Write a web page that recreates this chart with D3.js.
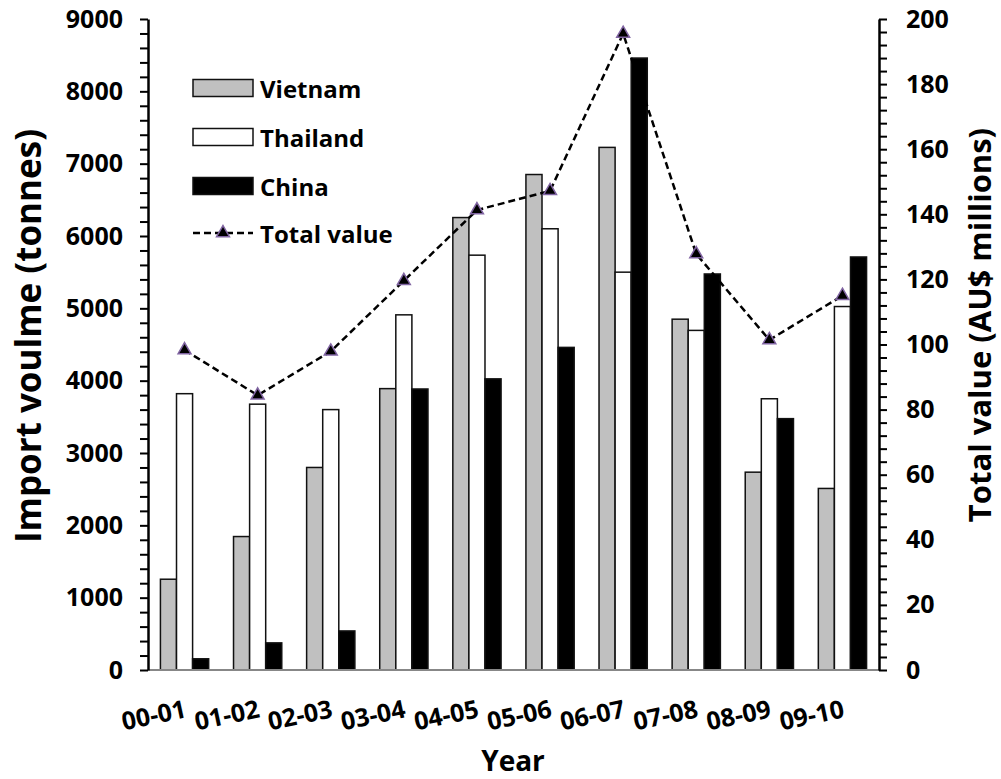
<!DOCTYPE html>
<html>
<head>
<meta charset="utf-8">
<script src="https://cdn.jsdelivr.net/npm/d3@7"></script>
<style>
	body { margin: 0; background: #fff; }
	text { font-family: "Open Sans", sans-serif; font-weight: 700; fill: #000; }
</style>
</head>
<body>
<svg id="chart" width="1001" height="779"></svg>
<script>
// chart data
var years = ["00-01", "01-02", "02-03", "03-04", "04-05", "05-06", "06-07", "07-08", "08-09", "09-10"];
var vietnam = [1255, 1845, 2800, 3890, 6255, 6850, 7225, 4850, 2735, 2510];
var thailand = [3820, 3675, 3600, 4910, 5735, 6100, 5500, 4695, 3750, 5025];
var china = [155, 375, 540, 3885, 4025, 4460, 8460, 5475, 3475, 5710];
var totalValue = [98.3, 84.4, 97.9, 119.6, 141.3, 147.2, 195.5, 127.8, 101.4, 115.0];

var leftTicks = [0, 1000, 2000, 3000, 4000, 5000, 6000, 7000, 8000, 9000];
var rightTicks = [0, 20, 40, 60, 80, 100, 120, 140, 160, 180, 200];

var seriesNames = ["Vietnam", "Thailand", "China"];
var seriesColors = ["#c0c0c0", "#ffffff", "#000000"];
var lineName = "Total value";

var svg = d3.select("#chart");
var plot = { left: 148, right: 879, top: 19, bottom: 670 };

var x = d3.scaleBand()
	.domain(years)
	.range([plot.left, plot.right])
	.paddingInner(0.34)
	.paddingOuter(0.17);

var xs = d3.scaleBand()
	.domain(seriesNames)
	.range([0, x.bandwidth()]);

var yl = d3.scaleLinear().domain([0, 9000]).range([plot.bottom, plot.top]);
var yr = d3.scaleLinear().domain([0, 200]).range([plot.bottom, plot.top]);

var series = [vietnam, thailand, china];

// bars
var groups = svg.append("g")
	.selectAll(".barGroup")
	.data(years)
	.enter()
	.append("g")
	.classed("barGroup", true)
	.attr("transform", function(d) {
		return "translate(" + x(d) + ",0)";
	});

groups.selectAll(".bar")
	.data(function(d, i) {
		return seriesNames.map(function(name, j) {
			return { name: name, value: series[j][i], color: seriesColors[j] };
		});
	})
	.enter()
	.append("rect")
	.classed("bar", true)
	.attr("x", function(d) { return xs(d.name); })
	.attr("width", xs.bandwidth())
	.attr("y", function(d) { return yl(d.value); })
	.attr("height", function(d) { return yl(0) - yl(d.value); })
	.attr("fill", function(d) { return d.color; })
	.attr("stroke", "#111")
	.attr("stroke-width", 1.5);

// x axis line (grey)
svg.append("line")
	.attr("x1", plot.left)
	.attr("x2", plot.right)
	.attr("y1", plot.bottom)
	.attr("y2", plot.bottom)
	.attr("stroke", "#878787")
	.attr("stroke-width", 2);

// left axis, minor ticks every 200
var leftAxis = d3.axisLeft(yl)
	.tickValues(d3.range(0, 9001, 200))
	.tickFormat(function(d) { return leftTicks.indexOf(d) >= 0 ? d : ""; })
	.tickSize(8)
	.tickSizeOuter(0)
	.tickPadding(17);

var gl = svg.append("g")
	.attr("transform", "translate(" + plot.left + ",0)")
	.call(leftAxis);

// right axis, minor ticks every 4
var rightAxis = d3.axisRight(yr)
	.tickValues(d3.range(0, 201, 4))
	.tickFormat(function(d) { return rightTicks.indexOf(d) >= 0 ? d : ""; })
	.tickSize(8)
	.tickSizeOuter(0)
	.tickPadding(19);

var gr = svg.append("g")
	.attr("transform", "translate(" + plot.right + ",0)")
	.call(rightAxis);

[gl, gr].forEach(function(g) {
	g.select(".domain").attr("stroke", "#000").attr("stroke-width", 2.5);
	g.selectAll(".tick line").attr("stroke", "#000").attr("stroke-width", 2);
	g.selectAll(".tick text")
		.style("font-size", "25px")
		.style("font-family", "'Open Sans', sans-serif")
		.style("font-weight", 700)
		.attr("fill", "#000");
});

// category labels, tilted
svg.append("g")
	.selectAll(".xLabel")
	.data(years)
	.enter()
	.append("text")
	.classed("xLabel", true)
	.attr("text-anchor", "end")
	.attr("transform", function(d) {
		return "translate(" + (x(d) + x.bandwidth() / 2 + 3) + ",717) rotate(-12)";
	})
	.style("font-size", "25px")
	.text(function(d) { return d; });

// total value line
var line = d3.line()
	.x(function(d, i) { return x(years[i]) + x.bandwidth() / 2; })
	.y(function(d) { return yr(d); });

svg.append("path")
	.datum(totalValue)
	.attr("d", line)
	.attr("fill", "none")
	.attr("stroke", "#000")
	.attr("stroke-width", 2.5)
	.attr("stroke-dasharray", "7,4");

var tri = d3.symbol().type(d3.symbolTriangle).size(72);

svg.append("g")
	.selectAll(".marker")
	.data(totalValue)
	.enter()
	.append("path")
	.classed("marker", true)
	.attr("d", tri)
	.attr("transform", function(d, i) {
		return "translate(" + (x(years[i]) + x.bandwidth() / 2) + "," + yr(d) + ")";
	})
	.attr("fill", "#000")
	.attr("stroke", "#8064a2")
	.attr("stroke-width", 1.5);

// axis titles
svg.append("text")
	.attr("transform", "translate(27,336) rotate(-90)")
	.attr("text-anchor", "middle")
	.attr("dominant-baseline", "central")
	.style("font-size", "35px")
	.text("Import voulme (tonnes)");

svg.append("text")
	.attr("transform", "translate(979,325) rotate(-90)")
	.attr("text-anchor", "middle")
	.attr("dominant-baseline", "central")
	.style("font-size", "31px")
	.text("Total value (AU$ millions)");

svg.append("text")
	.attr("x", 513)
	.attr("y", 771)
	.attr("text-anchor", "middle")
	.style("font-size", "28px")
	.text("Year");

// legend
var legend = svg.append("g").attr("transform", "translate(193,0)");
var legendY = [88, 137, 186, 233];

seriesNames.forEach(function(name, i) {
	legend.append("rect")
		.attr("x", 0)
		.attr("y", legendY[i] - 8.5)
		.attr("width", 60)
		.attr("height", 17)
		.attr("fill", seriesColors[i])
		.attr("stroke", "#111")
		.attr("stroke-width", 1.5);
	legend.append("text")
		.attr("x", 67)
		.attr("y", legendY[i])
		.attr("dominant-baseline", "central")
		.style("font-size", "24px")
		.text(name);
});

legend.append("line")
	.attr("x1", 0)
	.attr("x2", 60)
	.attr("y1", legendY[3])
	.attr("y2", legendY[3])
	.attr("stroke", "#000")
	.attr("stroke-width", 2.5)
	.attr("stroke-dasharray", "7,4");

legend.append("path")
	.attr("d", tri)
	.attr("transform", "translate(30," + legendY[3] + ")")
	.attr("fill", "#000")
	.attr("stroke", "#8064a2")
	.attr("stroke-width", 1.5);

legend.append("text")
	.attr("x", 67)
	.attr("y", legendY[3])
	.attr("dominant-baseline", "central")
	.style("font-size", "24px")
	.text(lineName);
</script>
</body>
</html>
